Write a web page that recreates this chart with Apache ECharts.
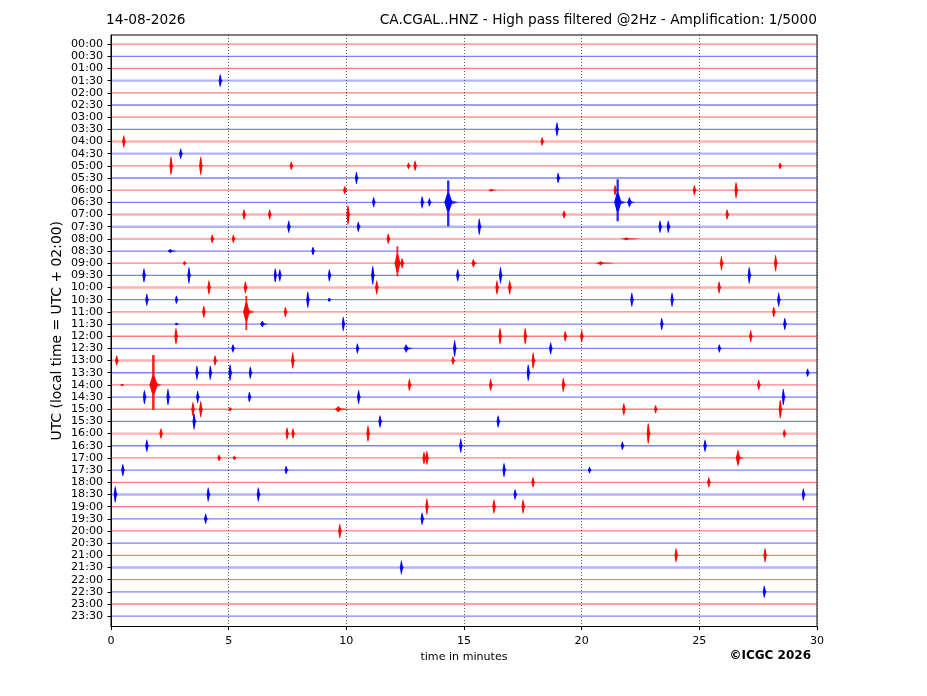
<!DOCTYPE html>
<html><head><meta charset="utf-8">
<script src="https://cdn.jsdelivr.net/npm/echarts@6/dist/echarts.min.js"></script>
<style>html,body{margin:0;padding:0;background:#fff}#c{width:927px;height:696px}</style>
</head><body><div id="c"></div>
<script>
// Row (trace) labels, 30-minute lines, top to bottom
const rowLabels = ['00:00','00:30','01:00','01:30','02:00','02:30','03:00','03:30','04:00','04:30',
  '05:00','05:30','06:00','06:30','07:00','07:30','08:00','08:30','09:00','09:30',
  '10:00','10:30','11:00','11:30','12:00','12:30','13:00','13:30','14:00','14:30',
  '15:00','15:30','16:00','16:30','17:00','17:30','18:00','18:30','19:00','19:30',
  '20:00','20:30','21:00','21:30','22:00','22:30','23:00','23:30'];
const xTicks = [0, 5, 10, 15, 20, 25, 30];
// background noise level of each trace (in row-spacing units)
const rowNoise = [0.04,0.04,0.05,0.11,0.04,0.04,0.04,0.05,0.11,0.1,
  0.05,0.04,0.05,0.05,0.1,0.09,0.09,0.05,0.05,0.05,
  0.1,0.05,0.05,0.05,0.05,0.05,0.11,0.05,0.05,0.05,
  0.05,0.05,0.11,0.05,0.05,0.05,0.05,0.1,0.05,0.05,
  0.05,0.05,0.05,0.1,0.04,0.04,0.04,0.04];
const traceColors = ['#ff0000', '#0000ff'];
// events: [row, minute, amplitude up, amplitude down, extra duration (min)]
const events = [
  [3,4.64,0.5,0.5,0],[7,18.95,0.57,0.57,0],[8,0.54,0.49,0.49,0],[8,18.32,0.33,0.33,0],[9,2.96,0.41,0.41,0],
  [10,2.55,0.74,0.74,0],[10,3.81,0.74,0.74,0],[10,7.66,0.33,0.33,0],[10,12.64,0.25,0.25,0],[10,12.92,0.41,0.41,0],[10,28.43,0.25,0.25,0],
  [11,10.43,0.49,0.49,0],[11,19.0,0.41,0.41,0],
  [12,9.93,0.33,0.33,0],[12,16.15,0.1,0.1,0.1],[12,21.42,0.41,0.41,0],[12,24.79,0.41,0.41,0],[12,26.56,0.66,0.66,0],
  [13,11.16,0.41,0.41,0],[13,13.22,0.49,0.49,0],[13,13.53,0.33,0.33,0],[13,14.33,1.8,1.97,0.25],[13,21.53,1.89,1.56,0.2],[13,22.03,0.41,0.41,0.1],
  [14,5.65,0.41,0.41,0],[14,6.74,0.41,0.41,0],[14,10.07,0.74,0.82,0],[14,19.25,0.3,0.3,0],[14,26.18,0.41,0.41,0],
  [15,7.55,0.49,0.49,0],[15,10.51,0.41,0.41,0],[15,15.65,0.66,0.66,0],[15,23.33,0.49,0.49,0],[15,23.68,0.49,0.49,0],
  [16,4.3,0.33,0.33,0],[16,5.2,0.33,0.33,0],[16,11.78,0.41,0.41,0],[16,21.9,0.12,0.12,0.4],
  [17,2.52,0.16,0.16,0.15],[17,8.58,0.33,0.33,0],
  [18,3.12,0.16,0.16,0],[18,12.17,1.39,1.07,0.15],[18,12.37,0.41,0.41,0],[18,15.4,0.33,0.33,0.05],[18,20.8,0.16,0.16,0.4],[18,25.94,0.57,0.57,0],[18,28.24,0.66,0.66,0],
  [19,1.4,0.57,0.57,0],[19,3.31,0.66,0.66,0],[19,6.98,0.57,0.57,0],[19,7.17,0.49,0.49,0],[19,9.28,0.49,0.49,0],[19,11.12,0.74,0.74,0],[19,14.73,0.49,0.49,0],[19,16.55,0.66,0.66,0],[19,27.12,0.66,0.66,0],
  [20,4.16,0.57,0.57,0],[20,5.71,0.49,0.49,0],[20,11.29,0.57,0.57,0],[20,16.4,0.57,0.57,0],[20,16.94,0.57,0.57,0],[20,25.84,0.49,0.49,0],
  [21,1.52,0.49,0.49,0],[21,2.78,0.33,0.33,0],[21,8.36,0.66,0.66,0],[21,9.27,0.16,0.16,0],[21,22.13,0.57,0.57,0],[21,23.84,0.57,0.57,0],[21,28.37,0.57,0.57,0],
  [22,3.94,0.49,0.49,0],[22,5.75,1.31,1.48,0.2],[22,7.41,0.41,0.41,0],[22,28.16,0.41,0.41,0],
  [23,2.78,0.1,0.1,0],[23,6.43,0.25,0.25,0.1],[23,9.87,0.57,0.57,0],[23,23.4,0.49,0.49,0],[23,28.63,0.49,0.49,0],
  [24,2.76,0.66,0.66,0],[24,16.53,0.66,0.66,0],[24,17.6,0.66,0.66,0],[24,19.3,0.41,0.41,0],[24,20.0,0.49,0.49,0],[24,27.18,0.49,0.49,0],
  [25,5.18,0.33,0.33,0],[25,10.47,0.41,0.41,0],[25,12.54,0.33,0.33,0.15],[25,14.6,0.66,0.66,0],[25,18.68,0.49,0.49,0],[25,25.85,0.33,0.33,0],
  [26,0.24,0.41,0.41,0],[26,4.42,0.41,0.41,0],[26,7.72,0.66,0.66,0],[26,14.53,0.33,0.33,0],[26,17.94,0.66,0.66,0],
  [27,3.65,0.57,0.57,0],[27,4.22,0.57,0.57,0],[27,5.06,0.66,0.66,0],[27,5.92,0.49,0.49,0],[27,17.73,0.66,0.66,0],[27,29.6,0.33,0.33,0],
  [28,0.46,0.08,0.08,0],[28,1.8,2.46,2.05,0.2],[28,12.68,0.49,0.49,0],[28,16.13,0.49,0.49,0],[28,19.22,0.57,0.57,0],[28,27.52,0.41,0.41,0],
  [29,1.42,0.57,0.57,0],[29,2.42,0.66,0.66,0],[29,3.68,0.49,0.49,0],[29,5.88,0.41,0.41,0],[29,10.52,0.57,0.57,0],[29,28.57,0.66,0.66,0],
  [30,3.48,0.57,0.57,0],[30,3.81,0.66,0.66,0],[30,5.06,0.16,0.16,0],[30,9.66,0.25,0.25,0.3],[30,21.79,0.49,0.49,0],[30,23.14,0.33,0.33,0],[30,28.44,0.74,0.74,0],
  [31,3.53,0.66,0.66,0],[31,11.43,0.49,0.49,0],[31,16.45,0.49,0.49,0],
  [32,2.12,0.41,0.41,0],[32,7.48,0.49,0.49,0],[32,7.73,0.41,0.41,0],[32,10.92,0.66,0.66,0],[32,22.83,0.82,0.82,0],[32,28.61,0.33,0.33,0],
  [33,1.52,0.49,0.49,0],[33,14.86,0.57,0.57,0],[33,21.73,0.33,0.33,0],[33,25.24,0.49,0.49,0],
  [34,4.59,0.25,0.25,0],[34,5.24,0.16,0.16,0],[34,13.3,0.49,0.49,0],[34,13.42,0.57,0.57,0],[34,26.64,0.66,0.66,0.1],
  [35,0.5,0.49,0.49,0],[35,7.44,0.33,0.33,0],[35,16.7,0.57,0.57,0],[35,20.33,0.25,0.25,0],
  [36,17.93,0.41,0.41,0],[36,25.4,0.41,0.41,0],
  [37,0.18,0.66,0.66,0],[37,4.13,0.57,0.57,0],[37,6.26,0.57,0.57,0],[37,17.17,0.41,0.41,0],[37,29.42,0.49,0.49,0],
  [38,13.42,0.66,0.66,0],[38,16.27,0.57,0.57,0],[38,17.51,0.57,0.57,0],
  [39,4.02,0.41,0.41,0],[39,13.22,0.49,0.49,0],
  [40,9.72,0.57,0.57,0],
  [42,24.01,0.57,0.57,0],[42,27.79,0.57,0.57,0],
  [43,12.34,0.57,0.57,0],
  [45,27.76,0.49,0.49,0]
];

const rowIdx = rowLabels.map((_, i) => i);
const baseData = rowIdx.map(i => [i, rowNoise[i]]);
const FONT = 'DejaVu Sans';

function renderBase(params, api) {
  const r = api.value(0), n = api.value(1);
  const p0 = api.coord([0, r]), p1 = api.coord([30, r]);
  const col = traceColors[r % 2];
  const noisy = n > 0.08;
  const h = noisy ? 2.4 : 1.3;
  return {
    type: 'rect',
    shape: { x: p0[0], y: p0[1] - h / 2, width: p1[0] - p0[0], height: h },
    style: { fill: col, opacity: noisy ? 0.3 : 0.5 }
  };
}

function renderEvent(params, api) {
  const r = api.value(0), m = api.value(1), up = api.value(2), dn = api.value(3), w = api.value(4);
  const col = traceColors[r % 2];
  const pk = api.coord([m, r]);
  const ppm = api.size([1, 0])[0];
  const ppr = api.size([0, 1])[1];
  const x = pk[0], y = pk[1];
  const amp = Math.max(up, dn);
  const yt = y - up * ppr, yb = y + dn * ppr;
  const sw = Math.min(2.6, 1.1 + Math.max(0, amp - 0.6) * 0.9);
  const stem = { type: 'rect', shape: { x: x - sw / 2, y: yt, width: sw, height: yb - yt }, style: { fill: col, opacity: 0.85 } };
  const cu = Math.min(up, 0.9) * ppr * 0.8, cd = Math.min(dn, 0.9) * ppr * 0.8;
  const hw = 1.6 + Math.min(w, 0.25) * 6 + Math.max(0, amp - 1) * 0.8;
  const core = [[x - hw, y], [x - sw / 2, y - cu], [x + sw / 2, y - cu], [x + hw * 1.1, y], [x + sw / 2, y + cd], [x - sw / 2, y + cd]];
  const cw = (0.1 + w) * ppm;
  const ch = Math.min(0.16, 0.05 + amp * 0.1) * ppr;
  const coda = [[x - cw * 0.5, y], [x - cw * 0.15, y - ch], [x + cw * 0.6, y - ch * 0.8], [x + cw * 1.2, y],
    [x + cw * 0.6, y + ch * 0.8], [x - cw * 0.15, y + ch]];
  return {
    type: 'group',
    children: [
      { type: 'polygon', shape: { points: coda }, style: { fill: col, opacity: 0.7 } },
      stem,
      { type: 'polygon', shape: { points: core }, style: { fill: col, opacity: 0.95 } }
    ]
  };
}

const chart = echarts.init(document.getElementById('c'), null, { renderer: 'canvas' });
chart.setOption({
  backgroundColor: '#fff',
  animation: false,
  textStyle: { fontFamily: FONT },
  title: [
    { text: '14-08-2026', left: 106, top: 13, padding: 0, textStyle: { fontFamily: FONT, fontSize: 13.7, fontWeight: 'normal', color: '#000' } },
    { text: 'CA.CGAL..HNZ - High pass filtered @2Hz - Amplification: 1/5000', right: 110, top: 13, padding: 0, textStyle: { fontFamily: FONT, fontSize: 13.7, fontWeight: 'normal', color: '#000' } }
  ],
  graphic: [
    { type: 'text', right: 116, top: 650, style: { text: '©ICGC 2026', font: 'bold 12px "DejaVu Sans"', fill: '#000' } }
  ],
  grid: { left: 111, right: 110, top: 35, bottom: 69.5, show: true, borderColor: '#000', borderWidth: 1, backgroundColor: 'transparent' },
  xAxis: {
    type: 'value', min: 0, max: 30, interval: 5,
    name: 'time in minutes', nameLocation: 'middle', nameGap: 25,
    nameTextStyle: { fontFamily: FONT, fontSize: 11.1, color: '#000' },
    axisLine: { show: true, onZero: false, lineStyle: { color: '#000', width: 1 } },
    axisTick: { show: true, length: 3.5, lineStyle: { color: '#000' } },
    axisLabel: { fontFamily: FONT, fontSize: 11.1, color: '#000', margin: 9, customValues: xTicks },
    splitLine: { show: true, lineStyle: { color: '#333', type: [1, 2], width: 0.8 } }
  },
  yAxis: {
    type: 'value', inverse: true, min: -0.75, max: 47.85,
    name: 'UTC (local time = UTC + 02:00)', nameLocation: 'middle', nameGap: 47, nameRotate: 90,
    nameMoveOverlap: false,
    nameTextStyle: { fontFamily: FONT, fontSize: 13.9, color: '#000' },
    axisLine: { show: true, onZero: false, lineStyle: { color: '#000', width: 1 } },
    axisTick: { show: true, length: 3.5, customValues: rowIdx, lineStyle: { color: '#000' } },
    axisLabel: { fontFamily: FONT, fontSize: 11.1, color: '#000', margin: 8, customValues: rowIdx,
      formatter: v => rowLabels[Math.round(v)] },
    splitLine: { show: false }
  },
  series: [
    { type: 'custom', name: 'traces', data: baseData, renderItem: renderBase, clip: true, silent: true, z: 2 },
    { type: 'custom', name: 'events', data: events, renderItem: renderEvent, clip: true, silent: true, z: 3 }
  ]
});
</script>
</body></html>
